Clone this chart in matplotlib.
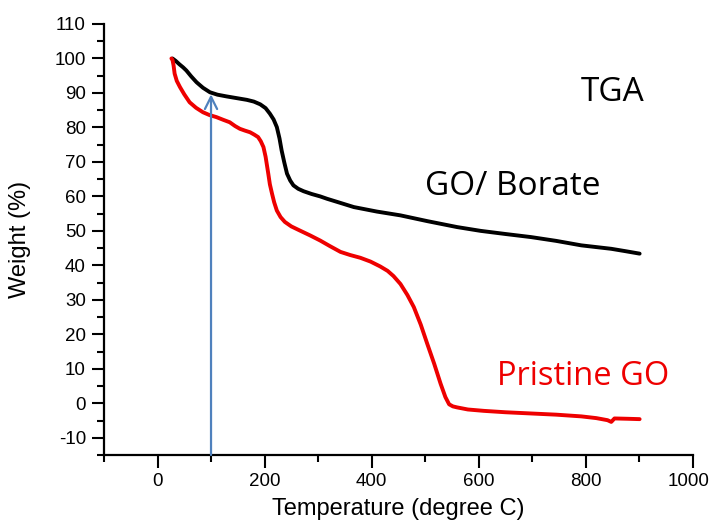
import matplotlib
matplotlib.use("Agg")
import matplotlib.pyplot as plt
from matplotlib.ticker import MultipleLocator
from matplotlib.transforms import ScaledTranslation

plt.rcParams["axes.unicode_minus"] = False

# TGA curves: temperature (degree C) and weight (%)
borate_temp = [28, 34, 41, 48, 54, 63, 73, 85, 98, 112, 129, 148, 167, 180, 192, 202, 210, 217, 223,
               228, 232, 237, 242, 248, 254, 263, 273, 288, 304, 317, 340, 367, 410, 454, 505, 560,
               604, 650, 698, 745, 792, 820, 848, 875, 901]
borate_wt = [100, 99.3, 98.3, 97.4, 96.5, 94.8, 93.1, 91.5, 90.2, 89.5, 89.0, 88.5, 88.0, 87.5, 86.7,
             85.6, 84.0, 82.3, 80.1, 76.8, 73.3, 69.8, 66.6, 64.6, 63.2, 62.2, 61.5, 60.7, 60.0, 59.3,
             58.2, 56.9, 55.6, 54.5, 52.8, 51.1, 50.0, 49.1, 48.2, 47.1, 45.8, 45.3, 44.8, 44.1, 43.4]

pristine_temp = [26, 28, 30, 32, 36, 42, 50, 60, 72, 85, 97, 110, 123, 135, 145, 154, 163, 173,
                 181, 188, 193, 198, 202, 207, 210, 214, 218, 223, 230, 238, 250, 266, 285, 304,
                 322, 342, 360, 379, 398, 416, 430, 441, 454, 467, 479, 492, 504, 517, 529, 538,
                 545, 552, 560, 580, 610, 650, 704, 745, 792, 820, 841, 848, 854, 880, 901]
pristine_wt = [100, 99.6, 98.0, 95.6, 93.5, 91.7, 89.6, 87.3, 85.7, 84.4, 83.6, 83.0, 82.2, 81.5,
               80.4, 79.6, 79.1, 78.6, 77.9, 77.2, 76.0, 74.3, 71.5, 66.6, 63.5, 60.8, 58.3, 55.9,
               54.0, 52.6, 51.3, 50.1, 48.7, 47.2, 45.6, 43.9, 43.0, 42.2, 41.1, 39.7, 38.4, 36.9,
               34.6, 31.4, 27.9, 22.8, 17.3, 11.5, 5.7, 1.8, -0.3, -0.9, -1.2, -1.8, -2.2, -2.6,
               -3.0, -3.3, -3.8, -4.3, -4.9, -5.4, -4.4, -4.5, -4.6]

x_ticks = [0, 200, 400, 600, 800, 1000]
y_ticks = list(range(-10, 111, 10))

arrow_temp = 100
arrow_tip = 89.6

fig = plt.figure(figsize=(7.11, 5.21), dpi=100)
ax = fig.add_axes([104 / 711, 66 / 521, (692.6 - 104) / 711, (455 - 24) / 521])

ax.plot(borate_temp, borate_wt, color="black", lw=2.8, solid_capstyle="round",
        solid_joinstyle="round")
ax.plot(pristine_temp, pristine_wt, color="#ee0000", lw=2.8, solid_capstyle="round",
        solid_joinstyle="round")

ax.annotate("", xy=(arrow_temp, arrow_tip), xytext=(arrow_temp, -15),
            arrowprops=dict(arrowstyle="->", color="#4f81bd", lw=1.6,
                            mutation_scale=22, shrinkA=0, shrinkB=0))

ax.set_xlim(-100, 1000)
ax.set_ylim(-15, 110)
ax.xaxis.set_minor_locator(MultipleLocator(100))
ax.yaxis.set_minor_locator(MultipleLocator(5))
ax.set_xticks(x_ticks)
ax.set_yticks(y_ticks)

for s in ("top", "right"):
    ax.spines[s].set_visible(False)
for s in ("left", "bottom"):
    ax.spines[s].set_linewidth(1.6)

ax.tick_params(which="major", direction="out", length=9, width=1.5,
               labelsize=13.5, pad=4)
ax.tick_params(which="minor", direction="out", length=5, width=1.5)
for lab in ax.get_xticklabels() + ax.get_yticklabels():
    lab.set_fontfamily("Liberation Sans")

# keep the last x tick label inside the figure edge
last = ax.get_xticklabels()[-1]
last.set_transform(last.get_transform() + ScaledTranslation(-4 / 100, 0, fig.dpi_scale_trans))

ax.set_xlabel("Temperature (degree C)", fontsize=17, family="Liberation Sans", labelpad=6)
ax.set_ylabel("Weight (%)", fontsize=17, family="Liberation Sans", labelpad=17)

ax.text(791, 87.6, "TGA", fontsize=24, family="Open Sans", color="black",
        ha="left", va="baseline")
ax.text(500.8, 60.3, "GO/ Borate", fontsize=24, family="Open Sans", color="black",
        ha="left", va="baseline")
ax.text(635, 5.2, "Pristine GO", fontsize=23.5, family="Open Sans", color="#ee0000",
        ha="left", va="baseline")

fig.savefig("out.png", dpi=100)
